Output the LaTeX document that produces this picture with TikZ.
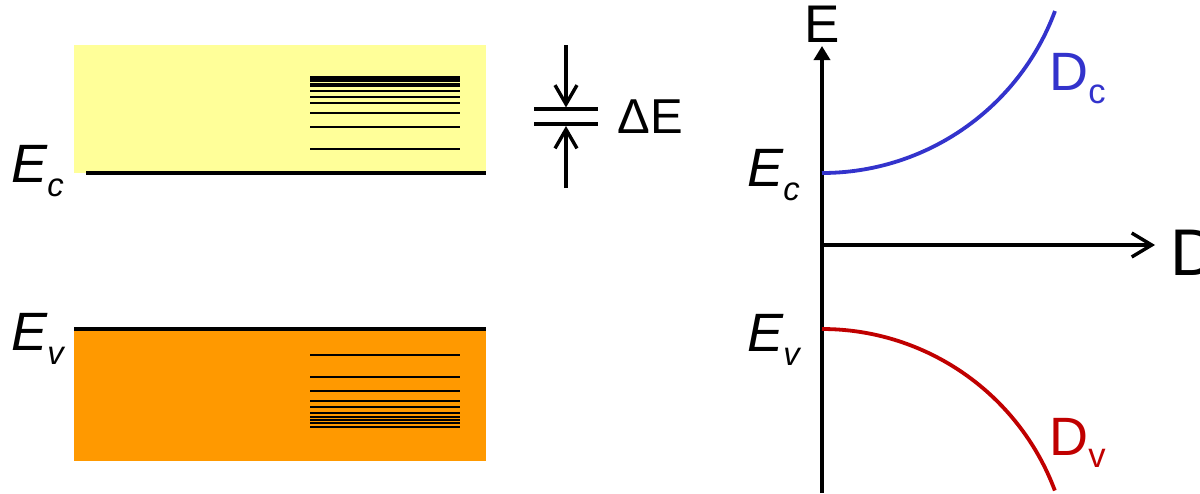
\documentclass[tikz,border=0pt]{standalone}
\usepackage{fontspec}
\setmainfont{Liberation Sans}
\usetikzlibrary{arrows.meta}
\definecolor{bandyellow}{HTML}{FFFF99}
\definecolor{bandorange}{HTML}{FF9900}
\definecolor{dcblue}{HTML}{3333CC}
\definecolor{dvred}{HTML}{C00000}
\newcommand{\bandlab}[2]{{\itshape #1\raisebox{-7pt}{\fontsize{16.4}{18}\selectfont #2}}}
\begin{document}
\begin{tikzpicture}[x=0.5pt,y=-0.5pt,
  lvl/.style={line width=1pt},
  edgeline/.style={line width=2pt},
  axisline/.style={line width=1.7pt},
  dimline/.style={line width=1.7pt},
  barline/.style={line width=2pt},
  curve/.style={line width=1.9pt},
  lab/.style={inner sep=0pt,anchor=base west,font=\fontsize{27}{30}\selectfont}]
\useasboundingbox (0,0) rectangle (1200,493);
% bands
\fill[bandyellow] (74,45) rectangle (486,173);
\fill[bandorange] (74,329) rectangle (486,461);
\coordinate (ecA) at (86,173);
\coordinate (ecB) at (486,173);
\coordinate (evA) at (74,329);
\coordinate (evB) at (486,329);
\draw[edgeline] (ecA) -- (ecB);
\draw[edgeline] (evA) -- (evB);
% levels
\foreach \y in {76.7,79,81.3,83.7,86.3,91.3,97,103.3,113.3,127.3,149}
  \draw[lvl] (310,\y) -- (460,\y);
\foreach \y in {355,376.7,391,400.7,407.3,412.7,417.3,420,422.7,426.7}
  \draw[lvl] (310,\y) -- (460,\y);
% labels left
\node[lab] (lEc) at (11,182) {\bandlab{E}{c}};
\node[lab] (lEv) at (11,350.7) {\bandlab{E}{v}};
% Delta E marker
\coordinate (dTop) at (566,45);
\coordinate (dTipA) at (566,107.5);
\coordinate (dBot) at (566,188);
\coordinate (dTipB) at (566,126);
\coordinate (b1a) at (534,109.3);
\coordinate (b1b) at (598,109.3);
\coordinate (b2a) at (534,124.3);
\coordinate (b2b) at (598,124.3);
\draw[barline] (b1a) -- (b1b);
\draw[barline] (b2a) -- (b2b);
\draw[dimline,-{Straight Barb[length=9.5pt,width=11pt]}] (dTop) -- (dTipA);
\draw[dimline,-{Straight Barb[length=9.5pt,width=11pt]}] (dBot) -- (dTipB);
\node[lab,font=\fontsize{24.5}{27}\selectfont] (dE) at (617,133.5) {ΔE};
% axes
\coordinate (o) at (822,245);
\coordinate (yBot) at (822,493);
\coordinate (yTop) at (822,46);
\coordinate (xEnd) at (1155,245);
\draw[axisline,-{Triangle[length=7pt,width=8pt]}] (yBot) -- (yTop);
\draw[axisline,-{Straight Barb[length=10pt,width=12pt]}] (o) -- (xEnd);
\node[lab,font=\fontsize{26.5}{30}\selectfont] (eAx) at (804,42) {E};
\node[lab,font=\fontsize{33}{36}\selectfont] (dAx) at (1170,275) {D};
% curves
\coordinate (cStart) at (822,173);
\coordinate (vStart) at (822,329);
\draw[curve,dcblue] (cStart) arc[start angle=90,end angle=20.4,radius=248.6];
\draw[curve,dvred] (vStart) arc[start angle=270,end angle=339.5,radius=248.6];
\node[lab] (rEc) at (747,186) {\bandlab{E}{c}};
\node[lab] (rEv) at (747,351.7) {\bandlab{E}{v}};
\node[lab,text=dcblue] (dc) at (1049,90) {D\raisebox{-6.5pt}{\fontsize{17.3}{19}\selectfont c}};
\node[lab,text=dvred] (dv) at (1049,455) {D\raisebox{-6pt}{\fontsize{17.3}{19}\selectfont v}};
\end{tikzpicture}
\end{document}
